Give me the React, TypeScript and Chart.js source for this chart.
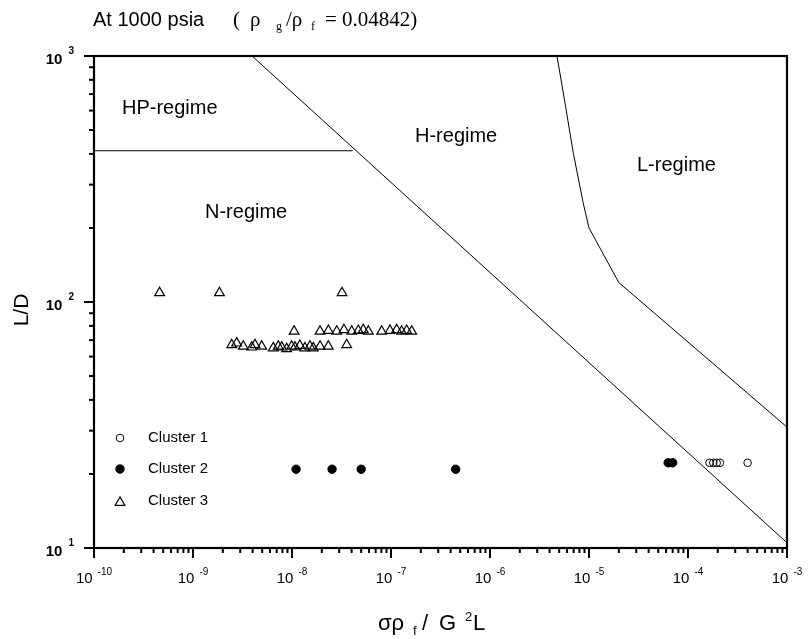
import { useEffect, useRef } from "react";
import { Chart, registerables } from "chart.js";
Chart.register(...registerables);

// ---------------- data ----------------
const cluster1X = [1.65e-4, 1.8e-4, 1.95e-4, 2.1e-4, 4.0e-4];
const cluster1Y = [22.2, 22.2, 22.2, 22.2, 22.2];

const cluster2X = [1.1e-8, 2.54e-8, 5.0e-8, 4.5e-7, 6.3e-5, 7.0e-5];
const cluster2Y = [20.9, 20.9, 20.9, 20.9, 22.2, 22.2];

const cluster3X = [
  4.6e-10, 1.85e-9, 3.2e-8,
  1.05e-8, 1.92e-8, 2.33e-8, 2.83e-8, 3.35e-8, 4.01e-8, 4.68e-8, 5.25e-8, 5.9e-8,
  8.05e-8, 9.77e-8, 1.14e-7, 1.28e-7, 1.44e-7, 1.62e-7,
  2.46e-9, 2.76e-9, 3.22e-9, 3.92e-9, 4.23e-9, 4.94e-9, 6.47e-9, 7.27e-9, 7.87e-9,
  8.84e-9, 9.93e-9, 1.07e-8, 1.2e-8, 1.35e-8, 1.52e-8, 1.64e-8, 1.92e-8, 2.33e-8, 3.57e-8,
];
const cluster3Y = [
  109, 109, 109,
  76, 76, 76.5, 76, 77, 76, 76.5, 77, 76,
  76, 76.5, 77, 76, 76.5, 76,
  67, 68, 66, 65.5, 67, 66, 65, 66, 65.5,
  64.5, 66, 65.5, 66.5, 65, 66, 65, 66, 66, 67,
];

// regime boundaries
const hpBoundaryX = [1e-10, 4.1e-8];
const hpBoundaryY = [412, 412];
const hBoundaryX = [3.95e-9, 1e-3];
const hBoundaryY = [1000, 10.5];
const lBoundaryX = [4.75e-6, 5.73e-6, 6.95e-6, 8.77e-6, 1.0e-5, 2.0e-5, 1e-3];
const lBoundaryY = [1000, 643, 402, 251, 200, 120, 31];

const xTickExponents = [-10, -9, -8, -7, -6, -5, -4, -3];
const yTickExponents = [1, 2, 3];

const legendLabels = ["Cluster 1", "Cluster 2", "Cluster 3"];
const regimeNames = ["HP-regime", "N-regime", "H-regime", "L-regime"];

// ---------------- helpers ----------------
const SANS = '"Liberation Sans", Arial, Helvetica, sans-serif';
const SERIF = '"Liberation Serif", "Times New Roman", serif';

const pts = (xs: number[], ys: number[]) => xs.map((x, i) => ({ x, y: ys[i] }));

function drawTrianglePath(ctx: CanvasRenderingContext2D, x: number, y: number, r: number) {
  let rad = 0;
  ctx.beginPath();
  ctx.moveTo(x + Math.sin(rad) * r, y - Math.cos(rad) * r);
  rad += (2 * Math.PI) / 3;
  ctx.lineTo(x + Math.sin(rad) * r, y - Math.cos(rad) * r);
  rad += (2 * Math.PI) / 3;
  ctx.lineTo(x + Math.sin(rad) * r, y - Math.cos(rad) * r);
  ctx.closePath();
}

const decor = {
  id: "decor",
  afterDraw(chart: any) {
    const ctx: CanvasRenderingContext2D = chart.ctx;
    const { left, right, top, bottom } = chart.chartArea;
    const xs = chart.scales.x;
    const ys = chart.scales.y;
    ctx.save();
    ctx.fillStyle = "#000";
    ctx.strokeStyle = "#000";

    // frame
    ctx.lineWidth = 2.2;
    ctx.strokeRect(left, top, right - left, bottom - top);

    // x ticks
    ctx.lineWidth = 2;
    for (let i = 0; i < xTickExponents.length; i++) {
      const e = xTickExponents[i];
      const px = xs.getPixelForValue(Math.pow(10, e));
      ctx.beginPath();
      ctx.moveTo(px, bottom);
      ctx.lineTo(px, bottom + 10);
      ctx.stroke();
      if (i < xTickExponents.length - 1) {
        for (let k = 2; k <= 9; k++) {
          const mx = xs.getPixelForValue(k * Math.pow(10, e));
          ctx.beginPath();
          ctx.moveTo(mx, bottom);
          ctx.lineTo(mx, bottom + 5);
          ctx.stroke();
        }
      }
    }
    // y ticks
    for (let i = 0; i < yTickExponents.length; i++) {
      const e = yTickExponents[i];
      const py = ys.getPixelForValue(Math.pow(10, e));
      ctx.beginPath();
      ctx.moveTo(left, py);
      ctx.lineTo(left - 10, py);
      ctx.stroke();
      if (i < yTickExponents.length - 1) {
        for (let k = 2; k <= 9; k++) {
          const my = ys.getPixelForValue(k * Math.pow(10, e));
          ctx.beginPath();
          ctx.moveTo(left, my);
          ctx.lineTo(left - 5, my);
          ctx.stroke();
        }
      }
    }

    // x tick labels
    ctx.textBaseline = "alphabetic";
    ctx.textAlign = "left";
    for (const e of xTickExponents) {
      const px = xs.getPixelForValue(Math.pow(10, e));
      ctx.font = `15px ${SANS}`;
      const w1 = ctx.measureText("10").width;
      ctx.font = `10px ${SANS}`;
      const w2 = ctx.measureText(String(e)).width;
      const gap = 5;
      const start = px - (w1 + gap + w2) / 2;
      ctx.font = `15px ${SANS}`;
      ctx.fillText("10", start, bottom + 35);
      ctx.font = `10px ${SANS}`;
      ctx.fillText(String(e), start + w1 + gap, bottom + 27);
    }
    // y tick labels
    for (const e of yTickExponents) {
      const py = ys.getPixelForValue(Math.pow(10, e));
      ctx.font = `bold 10px ${SANS}`;
      const w2 = ctx.measureText(String(e)).width;
      ctx.font = `bold 15px ${SANS}`;
      const w1 = ctx.measureText("10").width;
      const endX = left - 20;
      const gap = 6;
      ctx.fillText("10", endX - w2 - gap - w1, py + 7.5);
      ctx.font = `bold 10px ${SANS}`;
      ctx.fillText(String(e), endX - w2, py - 2);
    }

    // axis titles
    ctx.save();
    ctx.translate(22, 310);
    ctx.rotate(-Math.PI / 2);
    ctx.textAlign = "center";
    ctx.textBaseline = "middle";
    ctx.font = `21px ${SANS}`;
    ctx.fillText("L/D", 0, 0);
    ctx.restore();

    ctx.textAlign = "left";
    ctx.textBaseline = "alphabetic";
    ctx.font = `22px ${SANS}`;
    ctx.fillText("σρ", 378, 630);
    ctx.font = `13px ${SANS}`;
    ctx.fillText("f", 413, 635);
    ctx.font = `22px ${SANS}`;
    ctx.fillText("/", 422, 630);
    ctx.fillText("G", 439, 630);
    ctx.font = `13px ${SANS}`;
    ctx.fillText("2", 465, 621);
    ctx.font = `22px ${SANS}`;
    ctx.fillText("L", 473, 630);

    // top title
    ctx.font = `20px ${SANS}`;
    ctx.fillText("At 1000 psia", 93, 26);
    ctx.font = `21px ${SERIF}`;
    ctx.fillText("(", 233, 26);
    ctx.fillText("ρ", 250, 26);
    ctx.font = `12px ${SERIF}`;
    ctx.fillText("g", 276, 30);
    ctx.font = `21px ${SERIF}`;
    ctx.fillText("/ρ", 286, 26);
    ctx.font = `12px ${SERIF}`;
    ctx.fillText("f", 311, 30);
    ctx.font = `21px ${SERIF}`;
    ctx.fillText("= 0.04842)", 325, 26);

    // regime labels
    ctx.font = `20px ${SANS}`;
    ctx.textBaseline = "middle";
    const regimePos = [
      [122, 108],
      [205, 212],
      [415, 136],
      [637, 165],
    ];
    regimeNames.forEach((n, i) => ctx.fillText(n, regimePos[i][0], regimePos[i][1]));

    // legend
    ctx.font = `15px ${SANS}`;
    const legY = [438, 469, 501];
    legendLabels.forEach((lab, i) => {
      const ds = chart.data.datasets[i];
      const mx = 120;
      const my = legY[i];
      ctx.lineWidth = ds.borderWidth;
      ctx.strokeStyle = "#000";
      if (ds.pointStyle === "triangle") {
        drawTrianglePath(ctx, mx, my + 1.5, ds.pointRadius);
        ctx.stroke();
      } else {
        ctx.beginPath();
        ctx.arc(mx, my, ds.pointRadius, 0, Math.PI * 2);
        if (ds.backgroundColor !== "rgba(0,0,0,0)") {
          ctx.fillStyle = ds.backgroundColor;
          ctx.fill();
        }
        ctx.stroke();
      }
      ctx.fillStyle = "#000";
      ctx.fillText(lab, 148, my);
    });

    ctx.restore();
  },
};

export default function App() {
  const ref = useRef<HTMLCanvasElement | null>(null);
  useEffect(() => {
    if (!ref.current) return;
    const lineDs = (xs: number[], ys: number[]) => ({
      data: pts(xs, ys),
      showLine: true,
      pointRadius: 0,
      borderColor: "#000",
      borderWidth: 1,
      fill: false,
    });
    const chart = new Chart(ref.current, {
      type: "scatter",
      data: {
        datasets: [
          {
            label: legendLabels[0],
            data: pts(cluster1X, cluster1Y),
            pointStyle: "circle",
            pointRadius: 3.8,
            borderColor: "#000",
            backgroundColor: "rgba(0,0,0,0)",
            borderWidth: 1,
          },
          {
            label: legendLabels[1],
            data: pts(cluster2X, cluster2Y),
            pointStyle: "circle",
            pointRadius: 4.2,
            borderColor: "#000",
            backgroundColor: "#000",
            borderWidth: 1,
          },
          {
            label: legendLabels[2],
            data: pts(cluster3X, cluster3Y),
            pointStyle: "triangle",
            pointRadius: 5.6,
            borderColor: "#000",
            backgroundColor: "rgba(0,0,0,0)",
            borderWidth: 1.2,
          },
          { label: "HP boundary", ...lineDs(hpBoundaryX, hpBoundaryY) },
          { label: "H boundary", ...lineDs(hBoundaryX, hBoundaryY) },
          { label: "L boundary", ...lineDs(lBoundaryX, lBoundaryY) },
        ] as any,
      },
      options: {
        animation: false,
        responsive: false,
        layout: { padding: { left: 94, right: 22, top: 56, bottom: 91 } },
        plugins: { legend: { display: false }, tooltip: { enabled: false } },
        scales: {
          x: { type: "logarithmic", min: 1e-10, max: 1e-3, display: false },
          y: { type: "logarithmic", min: 10, max: 1000, display: false },
        },
      },
      plugins: [decor],
    });
    return () => chart.destroy();
  }, []);
  return (
    <div style={{ position: "fixed", left: 0, top: 0, width: 809, height: 639, background: "#fff" }}>
      <canvas ref={ref} width={809} height={639} />
    </div>
  );
}
